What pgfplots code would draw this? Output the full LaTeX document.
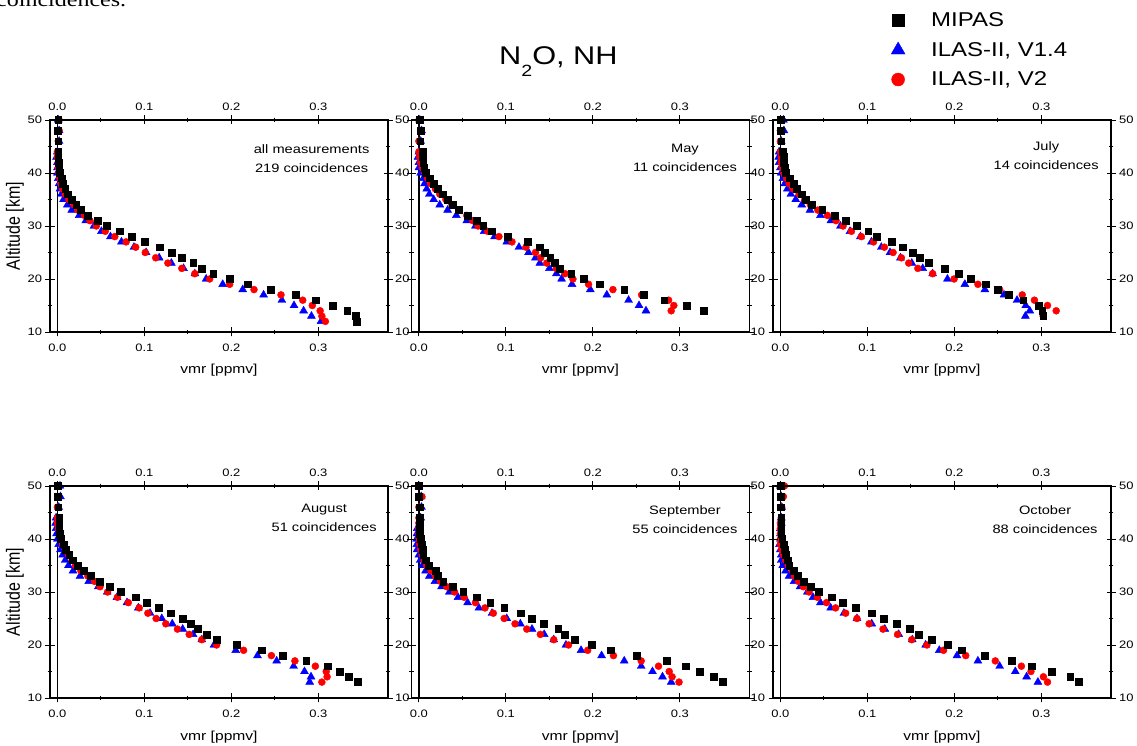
\documentclass[border=0pt]{standalone}
\usepackage{fontspec}
\setmainfont{Liberation Sans}[FakeStretch=1.2]
\newfontfamily\plainsans{Liberation Sans}
\newfontfamily\textserif{Liberation Serif}[FakeStretch=1.2]
\usepackage{graphicx}
\usepackage{pgfplots}
\usepackage{pgfplotstable}
\pgfplotsset{compat=1.18}

\newcommand\ticksize{\fontsize{10.8pt}{12pt}\selectfont}
\newcommand\annsize{\fontsize{12.2pt}{19pt}\selectfont}
\newcommand\labsize{\fontsize{13pt}{15pt}\selectfont}
\newcommand\legsize{\fontsize{20pt}{24pt}\selectfont}

\pgfplotstableread{
alt mipas v14 v2
50 0.001 0.001 0.002
48 0.000 0.002 0.002
46 0.001 0.002 0.001
44 0.001 0.000 0.000
43 0.001 -0.001 0.000
42 0.0015 0.000 0.001
41 0.002 0.000 0.001
40 0.003 0.000 0.002
39 0.0046 0.001 0.003
38 0.0065 0.002 0.004
37 0.009 0.003 0.006
36 0.012 0.0046 0.009
35 0.016 0.007 0.013
34 0.0215 0.0115 0.019
33 0.027 0.0165 0.0234
32 0.035 0.025 0.031
31 0.046 0.0326 0.0375
30 0.0567 0.042 0.0448
29 0.072 0.0506 0.055
28 0.085 0.061 0.066
27 0.100 0.0736 0.079
26 0.118 0.088 0.090
25 0.131 0.102 0.101
24 0.143 0.117 0.113
23 0.156 0.131 0.127
22 0.166 0.145 0.143
21 0.179 0.158 0.158
20 0.198 0.171 0.175
19 0.219 0.190 0.198
18 0.245 0.213 0.226
17 0.274 0.237 0.257
16 0.297 0.258 0.282
15 0.316 0.272 0.293
14 0.333 0.283 0.302
13 0.343 0.292 0.304
12 0.344 0.303 0.308
}\dataall

\pgfplotstableread{
alt mipas v14 v2
50 0.001 0.001 0.000
48 0.002 0.003 0.002
46 0.0015 0.002 0.000
44 0.004 0.000 0.000
43 0.004 -0.001 0.001
42 0.005 0.000 0.002
41 0.006 0.000 0.004
40 0.008 0.002 0.007
39 0.012 0.005 0.010
38 0.017 0.0065 0.0134
37 0.022 0.009 0.019
36 0.027 0.012 0.024
35 0.033 0.017 0.031
34 0.039 0.024 0.038
33 0.046 0.033 0.046
32 0.056 0.043 0.055
31 0.066 0.055 0.062
30 0.074 0.065 0.068
29 0.084 0.075 0.079
28 0.102 0.087 0.092
27 0.125 0.101 0.107
26 0.139 0.115 0.123
25 0.145 0.126 0.134
24 0.151 0.134 0.140
23 0.156 0.139 0.147
22 0.162 0.150 0.158
21 0.175 0.158 0.168
20 0.189 0.164 0.177
19 0.208 0.176 0.195
18 0.236 0.197 0.223
17 0.258 0.216 0.256
16 0.282 0.241 0.287
15 0.308 0.253 0.293
14 0.327 0.261 0.290
}\datamay

\pgfplotstableread{
alt mipas v14 v2
50 0.000 0.0035 0.000
48 0.000 0.004 0.000
46 0.001 0.001 0.000
44 0.003 -0.0015 0.000
43 0.0035 -0.002 0.001
42 0.004 -0.0015 0.001
41 0.0046 0.000 0.002
40 0.0065 0.001 0.004
39 0.011 0.003 0.007
38 0.015 0.005 0.010
37 0.019 0.008 0.0146
36 0.0245 0.012 0.0215
35 0.0295 0.0176 0.028
34 0.036 0.0245 0.0345
33 0.048 0.034 0.043
32 0.062 0.046 0.054
31 0.075 0.058 0.064
30 0.088 0.069 0.072
29 0.101 0.080 0.0816
28 0.111 0.092 0.093
27 0.128 0.1046 0.107
26 0.141 0.116 0.1195
25 0.152 0.126 0.1295
24 0.160 0.138 0.139
23 0.170 0.151 0.1475
22 0.189 0.1636 0.158
21 0.205 0.175 0.175
20 0.219 0.192 0.1996
19 0.236 0.212 0.227
18 0.250 0.235 0.252
17 0.262 0.257 0.278
16 0.279 0.272 0.292
15 0.297 0.282 0.307
14 0.301 0.2866 0.317
13 0.302 0.2816 0.302
}\datajul

\pgfplotstableread{
alt mipas v14 v2
50 0.000 0.003 0.000
48 0.000 0.0035 0.001
46 0.001 0.0015 0.000
44 0.002 -0.0015 0.000
43 0.002 -0.002 0.000
42 0.002 -0.0015 0.001
41 0.003 -0.001 0.003
40 0.004 0.000 0.004
39 0.007 0.0015 0.006
38 0.010 0.0035 0.009
37 0.0135 0.006 0.0127
36 0.018 0.009 0.017
35 0.023 0.0127 0.0208
34 0.030 0.018 0.027
33 0.038 0.026 0.035
32 0.049 0.036 0.0427
31 0.060 0.047 0.049
30 0.073 0.0573 0.0577
29 0.090 0.0685 0.069
28 0.103 0.080 0.0815
27 0.1165 0.093 0.094
26 0.130 0.1065 0.104
25 0.144 0.120 0.1135
24 0.153 0.132 0.1246
23 0.1615 0.144 0.138
22 0.172 0.156 0.1515
21 0.183 0.166 0.166
20 0.206 0.180 0.183
19 0.235 0.205 0.214
18 0.259 0.230 0.246
17 0.286 0.252 0.273
16 0.311 0.2715 0.2965
15 0.3246 0.284 0.309
14 0.335 0.2915 0.310
13 0.345 0.290 0.304
}\dataaug

\pgfplotstableread{
alt mipas v14 v2
50 0.000 0.000 0.000
48 0.000 0.0027 0.0035
46 0.001 0.003 0.000
44 0.001 0.002 0.000
43 0.001 0.001 0.000
42 0.001 -0.002 0.000
41 0.001 -0.0023 0.000
40 0.002 -0.0027 0.000
39 0.003 -0.0023 0.001
38 0.004 -0.002 0.002
37 0.005 0.000 0.004
36 0.0077 0.0015 0.006
35 0.011 0.004 0.009
34 0.019 0.0077 0.014
33 0.0215 0.012 0.019
32 0.028 0.0184 0.025
31 0.0387 0.026 0.032
30 0.051 0.035 0.041
29 0.066 0.045 0.052
28 0.082 0.056 0.065
27 0.098 0.069 0.076
26 0.117 0.084 0.0855
25 0.130 0.101 0.098
24 0.143 0.1166 0.1105
23 0.160 0.130 0.124
22 0.168 0.144 0.1396
21 0.179 0.155 0.155
20 0.199 0.169 0.172
19 0.220 0.1864 0.194
18 0.250 0.210 0.2236
17 0.285 0.236 0.2555
16 0.3065 0.2555 0.2754
15 0.3226 0.2685 0.2877
14 0.339 0.280 0.291
13 0.349 0.290 0.299
}\datasep

\pgfplotstableread{
alt mipas v14 v2
50 0.000 0.000 0.0046
48 0.000 0.001 0.0034
46 0.000 0.0015 0.0015
44 0.001 0.001 0.001
43 0.001 0.001 0.000
42 0.001 0.000 0.000
41 0.001 0.000 0.000
40 0.002 0.000 0.000
39 0.0035 -0.001 0.000
38 0.005 0.000 0.0015
37 0.0065 0.001 0.0034
36 0.008 0.001 0.006
35 0.010 0.0027 0.009
34 0.015 0.006 0.0138
33 0.020 0.010 0.016
32 0.0264 0.0157 0.0207
31 0.035 0.0226 0.0264
30 0.044 0.031 0.033
29 0.059 0.0375 0.0425
28 0.0716 0.046 0.053
27 0.087 0.0578 0.0635
26 0.105 0.073 0.075
25 0.1186 0.088 0.088
24 0.1336 0.105 0.102
23 0.149 0.120 0.118
22 0.159 0.136 0.1347
21 0.174 0.1516 0.151
20 0.1925 0.1669 0.1684
19 0.208 0.1826 0.1875
18 0.2346 0.203 0.213
17 0.266 0.227 0.247
16 0.289 0.252 0.277
15 0.312 0.270 0.288
14 0.333 0.283 0.3023
13 0.343 0.296 0.307
}\dataoct

\pgfplotsset{
  panel/.style={scale only axis, width=338pt, height=212pt,
    xmin=-0.0085, xmax=0.38, ymin=10, ymax=50,
    xtick={0,0.1,0.2,0.3}, xticklabels={0.0,0.1,0.2,0.3},
    ytick={10,20,30,40,50}, yticklabels={10,20,30,40,50},
    minor x tick num=1, minor y tick num=1,
    tick align=center, major tick length=9pt, minor tick length=4.5pt,
    axis line style={line width=1.1pt},
    tick style={line width=0.9pt, black},
    tick label style={font=\ticksize},
    clip=false, anchor=south west},
  mainpanel/.style={panel, xlabel={vmr [ppmv]},
    xticklabel style={yshift=-4pt},
    xlabel style={at={(axis description cs:0.5,0)}, anchor=base, yshift=-42pt, font=\labsize}},
  toppanel/.style={panel, xticklabel pos=right, yticklabel pos=right,
    xticklabel style={yshift=1.5pt}},
  mipas/.style={only marks, mark=square*, mark size=3.4pt, black},
  v14/.style={only marks, mark=triangle*, mark size=4.6pt, blue},
  v2/.style={only marks, mark=*, mark size=3.5pt, red},
  zeroline/.style={black, line width=1.5pt, no marks, forget plot},
  altlabel/.style={ylabel={\scalebox{1}[1.2]{\plainsans Altitude [km]}},
    ylabel style={at={(axis description cs:-0.0888,0.5)}, anchor=base, font=\fontsize{16pt}{18pt}\selectfont}},
  midcol/.style={yticklabel style={xshift=6pt}},
}

\begin{document}
\begin{tikzpicture}
\useasboundingbox (0,0) rectangle (1137pt,746pt);
\node[anchor=base west, inner sep=0pt, font=\textserif\fontsize{20pt}{24pt}\selectfont] at (-4pt,739pt) {coincidences.};
\node[anchor=base west, inner sep=0pt, font=\fontsize{25.6pt}{30pt}\selectfont] at (499pt,681pt) {N\raisebox{-12pt}{\fontsize{16.3pt}{18pt}\selectfont 2}O, NH};

% ---------- Panel 1: all measurements
\begin{axis}[mainpanel, altlabel, at={(50pt,414pt)}]
\addplot[zeroline] coordinates {(0,10) (0,50)};
\addplot[v14] table[x=v14,y=alt] {\dataall};
\addplot[v2] table[x=v2,y=alt] {\dataall};
\addplot[mipas] table[x=mipas,y=alt] {\dataall};
\node[align=center, font=\annsize] at (rel axis cs:0.774,0.818) {all measurements\\219 coincidences};
\end{axis}
\begin{axis}[toppanel, at={(50pt,414pt)}, yticklabels={}]
\end{axis}

% ---------- Panel 2: May
\begin{axis}[mainpanel, midcol, at={(411.5pt,414pt)}]
\addplot[zeroline] coordinates {(0,10) (0,50)};
\addplot[v14] table[x=v14,y=alt] {\datamay};
\addplot[v2] table[x=v2,y=alt] {\datamay};
\addplot[mipas] table[x=mipas,y=alt] {\datamay};
\node[align=center, font=\annsize] at (rel axis cs:0.809,0.823) {May\\11 coincidences};
\end{axis}
\begin{axis}[toppanel, at={(411.5pt,414pt)}, yticklabels={}]
\end{axis}

% ---------- Panel 3: July (with legend)
\begin{axis}[mainpanel, at={(773pt,414pt)},
  legend style={at={(0.340,1.33)}, anchor=west, draw=none, fill=none, inner sep=0pt,
    row sep=9.5pt, column sep=23pt, font=\legsize, nodes={inner sep=0pt}},
  legend cell align=left,
  legend image code/.code={\path[draw=none,fill=none] (-10pt,-10pt) rectangle (10pt,10pt); \draw[#1] plot coordinates {(0pt,0pt)};}]
\addlegendimage{mipas, mark size=6pt}
\addlegendentry{MIPAS}
\addlegendimage{v14, mark size=8pt}
\addlegendentry{ILAS-II, V1.4}
\addlegendimage{v2, mark size=6.5pt}
\addlegendentry{ILAS-II, V2}
\addplot[zeroline] coordinates {(0,10) (0,50)};
\addplot[v14, forget plot] table[x=v14,y=alt] {\datajul};
\addplot[v2, forget plot] table[x=v2,y=alt] {\datajul};
\addplot[mipas, forget plot] table[x=mipas,y=alt] {\datajul};
\node[align=center, font=\annsize] at (rel axis cs:0.808,0.833) {July\\14 coincidences};
\end{axis}
\begin{axis}[toppanel, at={(773pt,414pt)}]
\end{axis}

% ---------- Panel 4: August
\begin{axis}[mainpanel, altlabel, at={(50pt,48pt)}]
\addplot[zeroline] coordinates {(0,10) (0,50)};
\addplot[v14] table[x=v14,y=alt] {\dataaug};
\addplot[v2] table[x=v2,y=alt] {\dataaug};
\addplot[mipas] table[x=mipas,y=alt] {\dataaug};
\node[align=center, font=\annsize] at (rel axis cs:0.811,0.851) {August\\51 coincidences};
\end{axis}
\begin{axis}[toppanel, at={(50pt,48pt)}, yticklabels={}]
\end{axis}

% ---------- Panel 5: September
\begin{axis}[mainpanel, midcol, at={(411.5pt,48pt)}]
\addplot[zeroline] coordinates {(0,10) (0,50)};
\addplot[v14] table[x=v14,y=alt] {\datasep};
\addplot[v2] table[x=v2,y=alt] {\datasep};
\addplot[mipas] table[x=mipas,y=alt] {\datasep};
\node[align=center, font=\annsize] at (rel axis cs:0.809,0.842) {September\\55 coincidences};
\end{axis}
\begin{axis}[toppanel, at={(411.5pt,48pt)}, yticklabels={}]
\end{axis}

% ---------- Panel 6: October
\begin{axis}[mainpanel, at={(773pt,48pt)}]
\addplot[zeroline] coordinates {(0,10) (0,50)};
\addplot[v14] table[x=v14,y=alt] {\dataoct};
\addplot[v2] table[x=v2,y=alt] {\dataoct};
\addplot[mipas] table[x=mipas,y=alt] {\dataoct};
\node[align=center, font=\annsize] at (rel axis cs:0.805,0.840) {October\\88 coincidences};
\end{axis}
\begin{axis}[toppanel, at={(773pt,48pt)}]
\end{axis}
\end{tikzpicture}
\end{document}
